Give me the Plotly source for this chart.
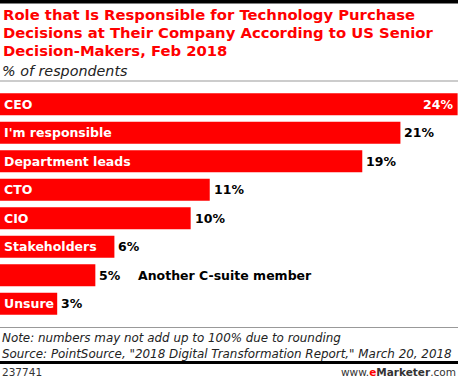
import plotly.graph_objects as go

categories = ["CEO", "I'm responsible", "Department leads", "CTO", "CIO",
              "Stakeholders", "Another C-suite member", "Unsure"]
values = [24, 21, 19, 11, 10, 6, 5, 3]
value_labels = ["24%", "21%", "19%", "11%", "10%", "6%", "5%", "3%"]

W, H = 458, 378
MT, MB = 90, 60
PH = H - MT - MB
RED = "#ff0000"
FONT = "DejaVu Sans"

def py(p):
    return (H - MB - p) / PH

fig = go.Figure(go.Bar(
    x=values, y=categories, orientation="h",
    marker=dict(color=RED, line=dict(width=0)),
    hoverinfo="skip",
))

ann = []
for cat, v, lab in zip(categories, values, value_labels):
    inside = cat != "Another C-suite member"
    if inside:
        ann.append(dict(x=0, y=cat, xref="x", yref="y", text="<b>%s</b>" % cat,
                        xanchor="left", xshift=2, showarrow=False,
                        font=dict(color="white", size=12.5, family=FONT)))
    else:
        ann.append(dict(x=v, y=cat, xref="x", yref="y", text="<b>%s</b>" % cat,
                        xanchor="left", xshift=41, showarrow=False,
                        font=dict(color="black", size=12.5, family=FONT)))
    if v == max(values):
        ann.append(dict(x=v, y=cat, xref="x", yref="y", text="<b>%s</b>" % lab,
                        xanchor="right", xshift=-3, showarrow=False,
                        font=dict(color="white", size=12.5, family=FONT)))
    else:
        ann.append(dict(x=v, y=cat, xref="x", yref="y", text="<b>%s</b>" % lab,
                        xanchor="left", xshift=2, showarrow=False,
                        font=dict(color="black", size=12.5, family=FONT)))

title_lines = ["Role that Is Responsible for Technology Purchase",
               "Decisions at Their Company According to US Senior",
               "Decision-Makers, Feb 2018"]
for i, t in enumerate(title_lines):
    ann.append(dict(x=0, y=py(14.5 + 18 * i), xref="paper", yref="paper",
                    text="<b>%s</b>" % t, xanchor="left", yanchor="middle",
                    showarrow=False, xshift=1,
                    font=dict(color=RED, size=14.8, family=FONT)))
ann.append(dict(x=0, y=py(70.5), xref="paper", yref="paper",
                text="<i>% of respondents</i>", xanchor="left", yanchor="middle",
                showarrow=False, font=dict(color="#222", size=14.3, family=FONT)))
ann.append(dict(x=0, y=py(338), xref="paper", yref="paper",
                text="<i>Note: numbers may not add up to 100% due to rounding</i>",
                xanchor="left", yanchor="middle", showarrow=False,
                font=dict(color="#222", size=11.9, family=FONT)))
ann.append(dict(x=0, y=py(354), xref="paper", yref="paper",
                text="<i>Source: PointSource, \"2018 Digital Transformation Report,\" March 20, 2018</i>",
                xanchor="left", yanchor="middle", showarrow=False,
                font=dict(color="#222", size=11.9, family=FONT)))
ann.append(dict(x=0, y=py(371.5), xref="paper", yref="paper",
                text="237741", xanchor="left", yanchor="middle", showarrow=False,
                font=dict(color="#333", size=10.5, family=FONT)))
ann.append(dict(x=1, y=py(371.5), xref="paper", yref="paper",
                text="www.<b><span style='color:#ff0000'>e</span>Marketer</b>.com",
                xanchor="right", yanchor="middle", showarrow=False,
                font=dict(color="#333", size=10.5, family=FONT)))

shapes = [
    dict(type="rect", xref="paper", yref="paper", x0=0, x1=1, y0=py(3.5), y1=py(0),
         fillcolor="black", line=dict(width=0)),
    dict(type="line", xref="paper", yref="paper", x0=0, x1=1, y0=py(81), y1=py(81),
         line=dict(color="#999", width=1.2)),
    dict(type="line", xref="paper", yref="paper", x0=0, x1=1, y0=py(327.5), y1=py(327.5),
         line=dict(color="#999", width=1.2)),
    dict(type="rect", xref="paper", yref="paper", x0=0, x1=1, y0=py(364), y1=py(361),
         fillcolor="black", line=dict(width=0)),
]

fig.update_layout(
    width=W, height=H,
    margin=dict(l=0, r=0, t=MT, b=MB, pad=0),
    paper_bgcolor="white", plot_bgcolor="white",
    bargap=0.23,
    showlegend=False,
    xaxis=dict(range=[0, 24.02], visible=False, fixedrange=True),
    yaxis=dict(categoryorder="array", categoryarray=categories, autorange="reversed",
               visible=False, fixedrange=True),
    annotations=ann, shapes=shapes,
)

fig.write_html("out.html", config={"displayModeBar": False},
               post_script="document.body.style.margin='0';document.body.style.overflow='hidden';")
